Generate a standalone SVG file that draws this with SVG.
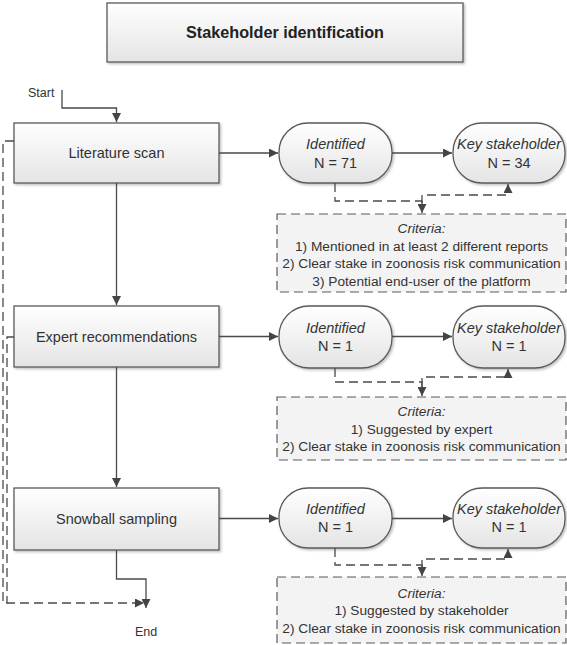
<svg xmlns="http://www.w3.org/2000/svg" width="567" height="645" viewBox="0 0 567 645">
<defs>
<linearGradient id="g" x1="0" y1="0" x2="0" y2="1"><stop offset="0" stop-color="#ffffff"/><stop offset="1" stop-color="#e4e4e4"/></linearGradient>
<filter id="sh" x="-10%" y="-10%" width="125%" height="130%"><feDropShadow dx="1.5" dy="1.5" stdDeviation="1.2" flood-color="#000" flood-opacity="0.25"/></filter>
<marker id="ar" viewBox="0 0 10 10" refX="10" refY="5" markerWidth="9" markerHeight="9" markerUnits="userSpaceOnUse" orient="auto"><path d="M0,0 L10,5 L0,10 z" fill="#444"/></marker>
</defs>
<style>
text{font-family:"Liberation Sans",Arial,sans-serif;fill:#333;}
.box{fill:url(#g);stroke:#5a5a5a;stroke-width:1.3;filter:url(#sh);}
.crit{fill:#f3f3f3;stroke:#5a5a5a;stroke-width:1.2;stroke-dasharray:9,5;}
.ln{fill:none;stroke:#4a4a4a;stroke-width:1.3;}
.dl{fill:none;stroke:#4a4a4a;stroke-width:1.3;stroke-dasharray:9,5;}
.t14{font-size:14.5px;text-anchor:middle;}
.ct{font-size:13.7px;text-anchor:middle;}
.it{font-style:italic;}
</style>
<g id="title"><rect class="box" x="107" y="3" width="356" height="59"/><text x="285" y="38" font-size="16.2" font-weight="bold" text-anchor="middle" style="fill:#222">Stakeholder identification</text></g>
<g id="start"><text x="28" y="97" font-size="12.5">Start</text></g>
<g id="end"><text x="146" y="636" font-size="12.5" text-anchor="middle">End</text></g>
<g id="lit"><rect class="box" x="14" y="123" width="205" height="60"/><text class="t14" x="116.5" y="158">Literature scan</text></g>
<g id="exp"><rect class="box" x="14" y="306" width="205" height="61"/><text class="t14" x="116.5" y="341.5">Expert recommendations</text></g>
<g id="snow"><rect class="box" x="14" y="488" width="205" height="62"/><text class="t14" x="116.5" y="524">Snowball sampling</text></g>
<g id="id1"><rect class="box" x="279" y="123" width="113" height="60" rx="29"/><text class="t14 it" x="335.5" y="149">Identified</text><text class="t14" x="335.5" y="168">N = 71</text></g>
<g id="key1"><rect class="box" x="453" y="123" width="112" height="60" rx="29"/><text class="t14 it" x="509" y="149">Key stakeholder</text><text class="t14" x="509" y="168">N = 34</text></g>
<g id="id2"><rect class="box" x="279" y="306" width="113" height="62" rx="30"/><text class="t14 it" x="335.5" y="333">Identified</text><text class="t14" x="335.5" y="351">N = 1</text></g>
<g id="key2"><rect class="box" x="453" y="306" width="112" height="62" rx="30"/><text class="t14 it" x="509" y="333">Key stakeholder</text><text class="t14" x="509" y="351">N = 1</text></g>
<g id="id3"><rect class="box" x="279" y="488" width="113" height="60" rx="29"/><text class="t14 it" x="335.5" y="514">Identified</text><text class="t14" x="335.5" y="532">N = 1</text></g>
<g id="key3"><rect class="box" x="453" y="488" width="112" height="60" rx="29"/><text class="t14 it" x="509" y="514">Key stakeholder</text><text class="t14" x="509" y="532">N = 1</text></g>
<g id="crit1"><rect class="crit" x="277" y="214" width="289" height="78"/><text class="ct it" x="421.5" y="233">Criteria:</text><text class="ct" x="421.5" y="250.5">1) Mentioned in at least 2 different reports</text><text class="ct" x="421.5" y="268">2) Clear stake in zoonosis risk communication</text><text class="ct" x="421.5" y="285.5">3) Potential end-user of the platform</text></g>
<g id="crit2"><rect class="crit" x="277" y="397" width="289" height="63"/><text class="ct it" x="421.5" y="416">Criteria:</text><text class="ct" x="421.5" y="433.5">1) Suggested by expert</text><text class="ct" x="421.5" y="451">2) Clear stake in zoonosis risk communication</text></g>
<g id="crit3"><rect class="crit" x="277" y="577" width="289" height="66"/><text class="ct it" x="421.5" y="597.5">Criteria:</text><text class="ct" x="421.5" y="615">1) Suggested by stakeholder</text><text class="ct" x="421.5" y="632.5">2) Clear stake in zoonosis risk communication</text></g>
<g id="connectors">
<path class="ln" d="M62,90 V108 H116.5 V122" marker-end="url(#ar)"/>
<path class="ln" d="M116.5,183 V305" marker-end="url(#ar)"/>
<path class="ln" d="M116.5,367 V487" marker-end="url(#ar)"/>
<path class="ln" d="M116.5,550 V579 H146 V608" marker-end="url(#ar)"/>
<path class="ln" d="M219,153 H278" marker-end="url(#ar)"/>
<path class="ln" d="M392,153 H452" marker-end="url(#ar)"/>
<path class="ln" d="M219,336.5 H278" marker-end="url(#ar)"/>
<path class="ln" d="M392,336.5 H452" marker-end="url(#ar)"/>
<path class="ln" d="M219,518.5 H278" marker-end="url(#ar)"/>
<path class="ln" d="M392,518.5 H452" marker-end="url(#ar)"/>
<path class="dl" d="M335,183 V201 H422 V213" marker-end="url(#ar)"/>
<path class="dl" d="M422,204 V195 H508 V184" marker-end="url(#ar)"/>
<path class="dl" d="M335,368 V382 H422 V396" marker-end="url(#ar)"/>
<path class="dl" d="M422,387 V377 H508 V369" marker-end="url(#ar)"/>
<path class="dl" d="M335,548 V565 H422 V576" marker-end="url(#ar)"/>
<path class="dl" d="M422,569 V559 H508 V549" marker-end="url(#ar)"/>
<path class="dl" d="M14,141 H3 V603 H144" marker-end="url(#ar)"/>
<path class="dl" d="M14,337 H7 V603"/>
</g>
</svg>
